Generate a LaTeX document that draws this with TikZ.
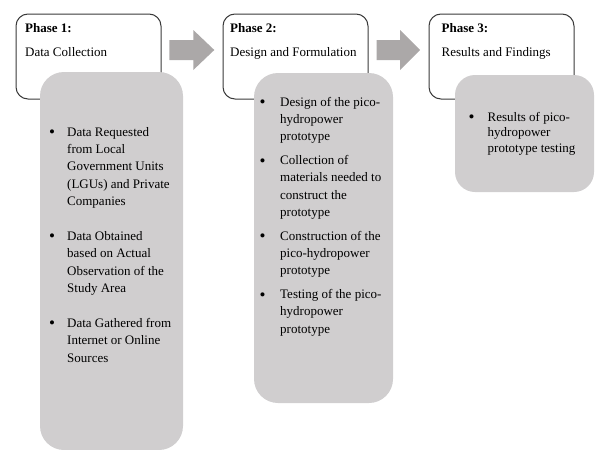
\documentclass[tikz,border=0pt]{standalone}
\usepackage{fontspec}
\setmainfont{Liberation Serif}
\definecolor{panelgray}{HTML}{D0CECF}
\definecolor{arrowgray}{HTML}{ABA8A8}
\definecolor{boxline}{HTML}{3A3A3A}
\newcommand{\blines}[1]{\begin{tabular}[t]{@{}l@{}}#1\end{tabular}}
\begin{document}
\begin{tikzpicture}[x=1pt,y=-1pt,
  phasebox/.style={draw=boxline, line width=1pt, fill=white, rounded corners=12pt, inner sep=0pt, outer sep=0pt, anchor=north west, minimum width=145pt, minimum height=85pt},
  panel/.style={fill=panelgray, rounded corners=24pt, inner sep=0pt, outer sep=0pt, anchor=north west},
  arrowfill/.style={fill=arrowgray},
  txt/.style={inner sep=0pt, anchor=base west, font=\fontsize{13}{17.4}\selectfont},
  txtb/.style={txt, font=\fontsize{13}{17.4}\selectfont\bfseries},
  bul/.style={inner sep=0pt, anchor=base, yshift=-1.5pt, font=\fontsize{17}{17.4}\selectfont}
]
\useasboundingbox (0,0) rectangle (595,450);

% phase boxes
\node[phasebox] (p1) at (16,14) {};
\node[phasebox] (p2) at (223,14) {};
\node[phasebox] (p3) at (429,14) {};

% arrows
\fill[arrowfill] (169.3,40) -- (193.3,40) -- (193.3,30) -- (214.3,50) -- (193.3,70) -- (193.3,60) -- (169.3,60) -- cycle;
\fill[arrowfill] (376.7,40) -- (400,40) -- (400,30) -- (420,50) -- (400,70) -- (400,60) -- (376.7,60) -- cycle;

% panels
\node[panel, minimum width=143pt, minimum height=378pt] (g1) at (40,72) {};
\node[panel, minimum width=139pt, minimum height=330pt] (g2) at (254,73) {};
\node[panel, minimum width=139pt, minimum height=117pt, rounded corners=20pt] (g3) at (455,75) {};

% headings
\node[txtb] (h1) at (25,32.5) {Phase 1:};
\node[txt] (s1) at (25,56.5) {Data Collection};
\node[txtb] (h2) at (230,32.5) {Phase 2:};
\node[txt] (s2) at (230,56.5) {Design and Formulation};
\node[txtb] (h3) at (441.5,32.5) {Phase 3:};
\node[txt] (s3) at (441.5,56.5) {Results and Findings};

% panel 1 bullets
\node[bul] (b11) at (52,136) {\textbullet};
\node[txt] (i11) at (67,136) {\blines{Data Requested\\from Local\\Government Units\\(LGUs) and Private\\Companies}};
\node[bul] (b12) at (52,240.4) {\textbullet};
\node[txt] (i12) at (67,240.4) {\blines{Data Obtained\\based on Actual\\Observation of the\\Study Area}};
\node[bul] (b13) at (52,327.4) {\textbullet};
\node[txt] (i13) at (67,327.4) {\blines{Data Gathered from\\Internet or Online\\Sources}};

% panel 2 bullets
\node[bul] (b21) at (262.7,106) {\textbullet};
\node[txt] (i21) at (280,106) {\blines{Design of the pico-\\hydropower\\prototype}};
\node[bul] (b22) at (262.7,164.5) {\textbullet};
\node[txt] (i22) at (280,164.5) {\blines{Collection of\\materials needed to\\construct the\\prototype}};
\node[bul] (b23) at (262.7,240) {\textbullet};
\node[txt] (i23) at (280,240) {\blines{Construction of the\\pico-hydropower\\prototype}};
\node[bul] (b24) at (262.7,298.5) {\textbullet};
\node[txt] (i24) at (280,298.5) {\blines{Testing of the pico-\\hydropower\\prototype}};

% panel 3 bullet
\node[bul] (b31) at (471.7,121) {\textbullet};
\node[txt, font=\fontsize{13}{15.5}\selectfont] (i31) at (487.5,121) {\blines{Results of pico-\\hydropower\\prototype testing}};
\end{tikzpicture}
\end{document}
